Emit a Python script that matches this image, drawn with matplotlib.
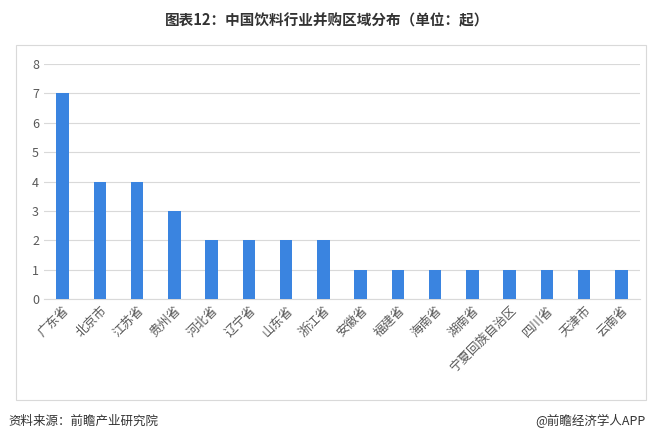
import matplotlib.pyplot as plt
from matplotlib.patches import Rectangle

plt.rcParams['font.family'] = ['Noto Sans CJK SC', 'DejaVu Sans']

regions = ['广东省', '北京市', '江苏省', '贵州省', '河北省', '辽宁省', '山东省', '浙江省',
           '安徽省', '福建省', '海南省', '湖南省', '宁夏回族自治区', '四川省', '天津市', '云南省']
counts = [7, 4, 4, 3, 2, 2, 2, 2, 1, 1, 1, 1, 1, 1, 1, 1]

fig = plt.figure(figsize=(6.54, 4.41), dpi=100)
ax = fig.add_axes([44 / 654, 1 - 299 / 441, 596 / 654, 235 / 441])

# light frame around the chart area
fig.patches.append(Rectangle((16 / 654, 1 - 400 / 441), 630 / 654, 355 / 441,
                             transform=fig.transFigure, fill=False,
                             edgecolor='#d9d9d9', linewidth=0.8))

x = range(len(regions))
ax.bar(x, counts, width=0.33, color='#3a84e0', zorder=3)
ax.set_ylim(0, 8)
ax.set_xlim(-0.5, len(regions) - 0.5)
ax.set_yticks(range(0, 9))
ax.yaxis.grid(True, color='#d9d9d9', linewidth=0.8, zorder=0)
for s in ax.spines.values():
    s.set_visible(False)
ax.spines['bottom'].set_visible(True)
ax.spines['bottom'].set_color('#d9d9d9')
ax.tick_params(length=0, labelsize=9, colors='#595959')
ax.set_xticks(list(x))
ax.set_xticklabels(regions, rotation=45, ha='right', rotation_mode='anchor')

fig.text(0.5, 1 - 20 / 441, '图表12：中国饮料行业并购区域分布（单位：起）',
         ha='center', va='center', fontsize=10.5, fontweight='bold', color='#333333')
fig.text(8 / 654, 1 - 421 / 441, '资料来源：前瞻产业研究院', ha='left', va='center',
         fontsize=9, color='#333333')
fig.text(646 / 654, 1 - 421 / 441, '@前瞻经济学人APP', ha='right', va='center',
         fontsize=9, color='#333333')

fig.savefig('out.png', dpi=100)
